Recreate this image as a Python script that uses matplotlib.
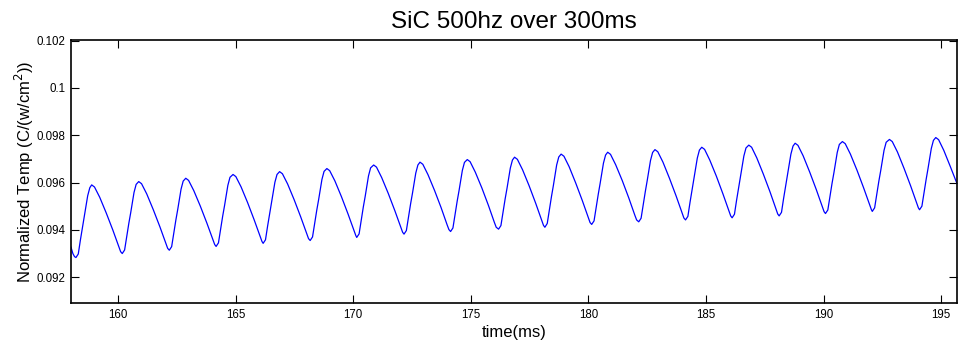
import matplotlib
matplotlib.use("Agg")
import matplotlib.pyplot as plt

plt.rcParams['font.family'] = ['Liberation Sans', 'DejaVu Sans']

# samples, one row per 2 ms cycle (trough -> peak -> fall)
time_ms = [
    158.00, 158.08, 158.15,
    158.21, 158.31, 158.40, 158.49, 158.57, 158.71, 158.80, 158.88, 159.00, 159.22, 159.50, 159.78, 160.03, 160.11,
    160.18, 160.28, 160.37, 160.46, 160.54, 160.68, 160.77, 160.88, 161.00, 161.22, 161.50, 161.78, 162.03, 162.11,
    162.18, 162.28, 162.37, 162.46, 162.54, 162.68, 162.77, 162.88, 163.00, 163.22, 163.50, 163.78, 164.03, 164.11,
    164.17, 164.27, 164.36, 164.45, 164.53, 164.67, 164.76, 164.89, 165.01, 165.23, 165.51, 165.79, 166.04, 166.12,
    166.17, 166.27, 166.36, 166.45, 166.53, 166.67, 166.76, 166.87, 166.99, 167.21, 167.49, 167.77, 168.02, 168.10,
    168.17, 168.27, 168.36, 168.45, 168.53, 168.67, 168.76, 168.88, 169.00, 169.22, 169.50, 169.78, 170.03, 170.11,
    170.15, 170.25, 170.34, 170.43, 170.51, 170.65, 170.74, 170.87, 170.99, 171.21, 171.49, 171.77, 172.02, 172.10,
    172.16, 172.26, 172.35, 172.44, 172.52, 172.66, 172.75, 172.84, 172.96, 173.18, 173.46, 173.74, 173.99, 174.07,
    174.14, 174.24, 174.33, 174.42, 174.50, 174.64, 174.73, 174.85, 174.97, 175.19, 175.47, 175.75, 176.00, 176.08,
    176.18, 176.28, 176.37, 176.46, 176.54, 176.68, 176.77, 176.86, 176.98, 177.20, 177.48, 177.76, 178.01, 178.09,
    178.15, 178.25, 178.34, 178.43, 178.51, 178.65, 178.74, 178.84, 178.96, 179.18, 179.46, 179.74, 179.99, 180.07,
    180.14, 180.24, 180.33, 180.42, 180.50, 180.64, 180.73, 180.82, 180.94, 181.16, 181.44, 181.72, 181.97, 182.05,
    182.14, 182.24, 182.33, 182.42, 182.50, 182.64, 182.73, 182.83, 182.95, 183.17, 183.45, 183.73, 183.98, 184.06,
    184.13, 184.23, 184.32, 184.41, 184.49, 184.63, 184.72, 184.82, 184.94, 185.16, 185.44, 185.72, 185.97, 186.05,
    186.11, 186.21, 186.30, 186.39, 186.47, 186.61, 186.70, 186.82, 186.94, 187.16, 187.44, 187.72, 187.97, 188.05,
    188.11, 188.21, 188.30, 188.39, 188.47, 188.61, 188.70, 188.79, 188.91, 189.13, 189.41, 189.69, 189.94, 190.02,
    190.08, 190.18, 190.27, 190.36, 190.44, 190.58, 190.67, 190.80, 190.92, 191.14, 191.42, 191.70, 191.95, 192.03,
    192.07, 192.17, 192.26, 192.35, 192.43, 192.57, 192.66, 192.80, 192.92, 193.14, 193.42, 193.70, 193.95, 194.03,
    194.08, 194.18, 194.27, 194.36, 194.44, 194.58, 194.67, 194.77, 194.89, 195.11, 195.39, 195.67,
]

norm_temp = [
    0.09327, 0.09300, 0.09287,
    0.09283, 0.09298, 0.09357, 0.09412, 0.09458, 0.09544, 0.09578, 0.09590, 0.09581, 0.09538, 0.09471, 0.09399, 0.09329, 0.09308,
    0.09300, 0.09315, 0.09373, 0.09428, 0.09473, 0.09558, 0.09592, 0.09604, 0.09595, 0.09552, 0.09485, 0.09413, 0.09343, 0.09322,
    0.09314, 0.09329, 0.09387, 0.09442, 0.09487, 0.09572, 0.09606, 0.09618, 0.09609, 0.09566, 0.09500, 0.09428, 0.09359, 0.09338,
    0.09330, 0.09345, 0.09403, 0.09458, 0.09503, 0.09588, 0.09622, 0.09634, 0.09625, 0.09582, 0.09515, 0.09442, 0.09372, 0.09351,
    0.09343, 0.09358, 0.09416, 0.09470, 0.09516, 0.09601, 0.09634, 0.09646, 0.09637, 0.09594, 0.09527, 0.09454, 0.09384, 0.09363,
    0.09355, 0.09370, 0.09428, 0.09483, 0.09528, 0.09613, 0.09647, 0.09659, 0.09650, 0.09607, 0.09540, 0.09467, 0.09397, 0.09376,
    0.09368, 0.09383, 0.09441, 0.09497, 0.09542, 0.09628, 0.09662, 0.09674, 0.09665, 0.09621, 0.09554, 0.09481, 0.09411, 0.09390,
    0.09382, 0.09397, 0.09455, 0.09510, 0.09555, 0.09640, 0.09674, 0.09686, 0.09677, 0.09633, 0.09566, 0.09493, 0.09422, 0.09401,
    0.09393, 0.09408, 0.09466, 0.09521, 0.09566, 0.09651, 0.09685, 0.09697, 0.09688, 0.09644, 0.09577, 0.09503, 0.09432, 0.09411,
    0.09403, 0.09418, 0.09476, 0.09531, 0.09576, 0.09661, 0.09695, 0.09707, 0.09698, 0.09654, 0.09586, 0.09512, 0.09441, 0.09419,
    0.09411, 0.09427, 0.09485, 0.09541, 0.09587, 0.09674, 0.09708, 0.09720, 0.09711, 0.09667, 0.09598, 0.09524, 0.09453, 0.09431,
    0.09423, 0.09438, 0.09496, 0.09551, 0.09597, 0.09682, 0.09716, 0.09728, 0.09719, 0.09675, 0.09608, 0.09534, 0.09463, 0.09442,
    0.09434, 0.09449, 0.09507, 0.09562, 0.09608, 0.09693, 0.09727, 0.09739, 0.09730, 0.09686, 0.09617, 0.09543, 0.09472, 0.09450,
    0.09442, 0.09457, 0.09516, 0.09571, 0.09617, 0.09703, 0.09737, 0.09749, 0.09740, 0.09695, 0.09627, 0.09552, 0.09481, 0.09459,
    0.09451, 0.09466, 0.09525, 0.09580, 0.09626, 0.09712, 0.09746, 0.09758, 0.09749, 0.09704, 0.09635, 0.09561, 0.09489, 0.09467,
    0.09459, 0.09474, 0.09533, 0.09588, 0.09634, 0.09720, 0.09754, 0.09766, 0.09757, 0.09713, 0.09644, 0.09570, 0.09499, 0.09477,
    0.09469, 0.09484, 0.09542, 0.09597, 0.09642, 0.09727, 0.09761, 0.09773, 0.09764, 0.09720, 0.09652, 0.09578, 0.09508, 0.09486,
    0.09478, 0.09493, 0.09551, 0.09606, 0.09651, 0.09736, 0.09770, 0.09782, 0.09773, 0.09729, 0.09660, 0.09586, 0.09515, 0.09493,
    0.09485, 0.09500, 0.09558, 0.09613, 0.09659, 0.09744, 0.09778, 0.09790, 0.09781, 0.09736, 0.09667, 0.09596,
]

x_ticks = [160, 165, 170, 175, 180, 185, 190, 195]
y_ticks = [0.092, 0.094, 0.096, 0.098, 0.1, 0.102]
y_labels = ['0.092', '0.094', '0.096', '0.098', '0.1', '0.102']

fig = plt.figure(figsize=(9.58, 3.46), dpi=100)
ax = fig.add_axes([0.0741, 0.1243, 0.9248, 0.760])

ax.plot(time_ms, norm_temp, color='#0000ff', linewidth=0.9)

ax.set_xlim(158.0, 195.67)
ax.set_ylim(0.09091, 0.10202)
ax.set_xticks(x_ticks)
ax.set_xticklabels([str(t) for t in x_ticks])
ax.set_yticks(y_ticks)
ax.set_yticklabels(y_labels)

# matlab-like box with inward ticks on every side
ax.tick_params(direction='in', length=6, width=0.8, top=True, right=True,
               labelsize=8.3, pad=4)
for sp in ax.spines.values():
    sp.set_linewidth(1.2)

ax.set_title('SiC 500hz over 300ms', fontsize=17.5, pad=9)
ax.set_xlabel('time(ms)', fontsize=12, labelpad=3)
ax.set_ylabel('Normalized Temp (C/(w/cm$^2$))', fontsize=12, labelpad=0.5)

fig.savefig('out.png', dpi=100)
